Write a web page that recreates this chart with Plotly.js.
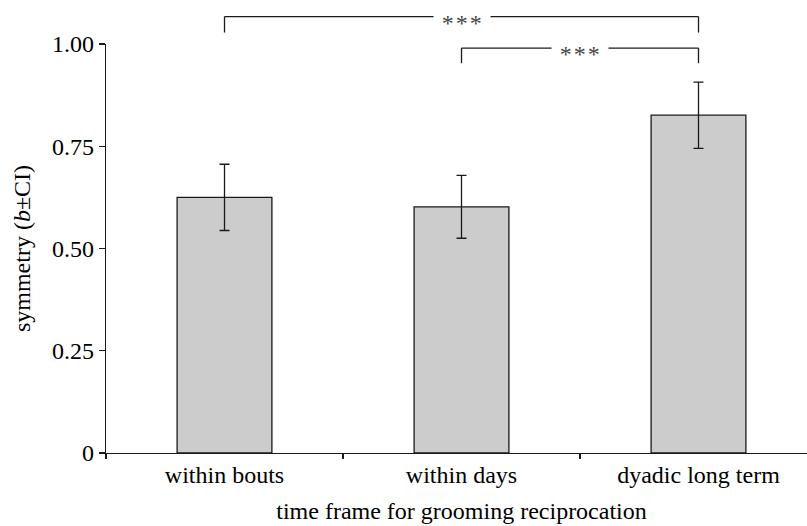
<!DOCTYPE html>
<html>
<head>
<meta charset="utf-8">
<script src="https://cdn.plot.ly/plotly-3.0.1.min.js"></script>
<style>html,body{margin:0;padding:0;background:#fff;overflow:hidden;width:807px;height:526px;}</style>
</head>
<body>
<div id="chart" style="width:817px;height:526px;"></div>
<script>
var categories = ["within bouts", "within days", "dyadic long term"];
var symmetry = [0.625, 0.602, 0.826];
var ciHalf = [0.081, 0.077, 0.081];
var yTickVals = [0, 0.25, 0.5, 0.75, 1.0];
var yTickText = ["0", "0.25", "0.50", "0.75", "1.00"];
// significance comparisons: [from index, to index, label]
var comparisons = [
  {from: 0, to: 2, label: "***", level: 1.067, drop: 1.028},
  {from: 1, to: 2, label: "***", level: 0.990, drop: 0.953}
];

var font = {family: "'Liberation Serif', 'Times New Roman', serif", size: 24, color: "#000"};

var trace = {
  type: "bar",
  x: categories,
  y: symmetry,
  marker: {color: "#cccccc", line: {color: "#1a1a1a", width: 1.3}},
  error_y: {type: "data", array: ciHalf, visible: true, color: "#1a1a1a", thickness: 1.3, width: 5},
  hoverinfo: "none"
};

var shapes = [];
var annotations = [];
comparisons.forEach(function (c) {
  var xa = categories[c.from], xb = categories[c.to];
  shapes.push({type: "line", xref: "x", yref: "paper", x0: xa, x1: xa, y0: c.drop, y1: c.level, line: {color: "#1a1a1a", width: 1.3}});
  shapes.push({type: "line", xref: "x", yref: "paper", x0: xa, x1: xb, y0: c.level, y1: c.level, line: {color: "#1a1a1a", width: 1.3}});
  shapes.push({type: "line", xref: "x", yref: "paper", x0: xb, x1: xb, y0: c.drop, y1: c.level, line: {color: "#1a1a1a", width: 1.3}});
  annotations.push({
    xref: "x", yref: "paper", x: (c.from + c.to) / 2, y: c.level,
    text: "\u2009" + c.label.split("").join("\u200A") + "\u2009", showarrow: false, xanchor: "center", yanchor: "middle",
    yshift: -6, bgcolor: "#ffffff", borderpad: 3,
    font: {family: font.family, size: 24, color: "#444"}
  });
});

var layout = {
  width: 817, height: 526,
  margin: {l: 106, r: 0, t: 44, b: 73, pad: 0},
  paper_bgcolor: "#fff", plot_bgcolor: "#fff",
  font: font,
  showlegend: false,
  bargap: 0.6,
  xaxis: {
    type: "category",
    range: [-0.5, 2.5],
    showline: true, linecolor: "#1a1a1a", linewidth: 1.3,
    ticks: "outside", tickson: "boundaries", ticklen: 5, tickcolor: "#1a1a1a", tickwidth: 1.3,
    showgrid: false, zeroline: false,
    tickfont: font,
    title: {text: "time frame for grooming reciprocation", font: font, standoff: 15}
  },
  yaxis: {
    range: [0, 1.0],
    tickvals: yTickVals, ticktext: yTickText,
    showline: true, linecolor: "#1a1a1a", linewidth: 1.3,
    ticks: "outside", ticklen: 6, tickcolor: "#1a1a1a", tickwidth: 1.3,
    showgrid: false, zeroline: false,
    tickfont: font,
    title: {text: "symmetry (<i>b</i>±CI)", font: font, standoff: 14}
  },
  shapes: shapes,
  annotations: annotations
};

Plotly.newPlot("chart", [trace], layout, {staticPlot: true, displayModeBar: false});
</script>
</body>
</html>
